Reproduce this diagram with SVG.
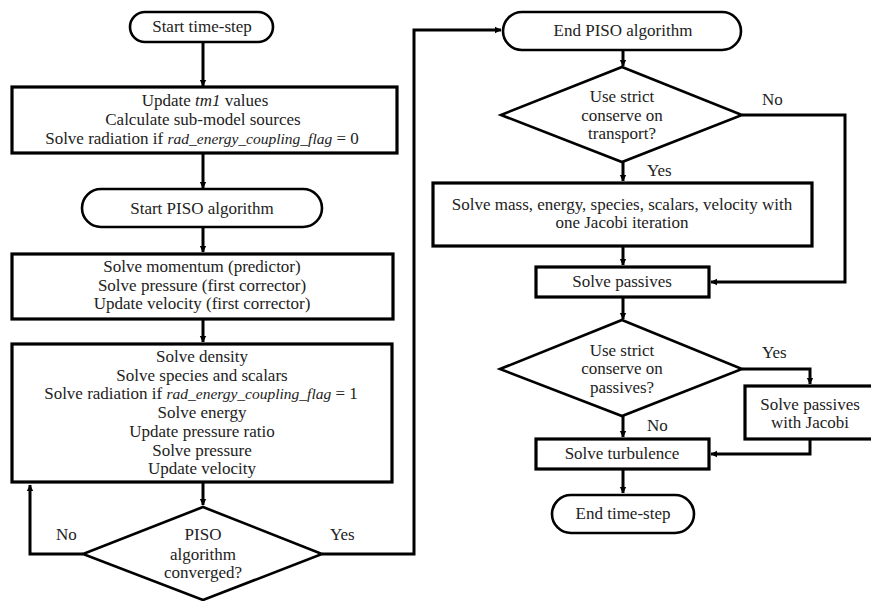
<svg xmlns="http://www.w3.org/2000/svg" width="871" height="601" viewBox="0 0 871 601">
<style>
text{font-family:'Liberation Serif','DejaVu Serif',serif;font-size:17px;fill:#222;text-anchor:middle}
.it{font-style:italic}
.itn{font-style:italic;font-size:15.5px}
.box{fill:#fff;stroke:#000;stroke-width:3.2}
.pill{fill:#fff;stroke:#000;stroke-width:2.6}
.dia{fill:#fff;stroke:#000;stroke-width:2.6}
.ln{fill:none;stroke:#000;stroke-width:3}
.lab{text-anchor:start}
</style>
<defs>
<marker id="ah" markerWidth="8" markerHeight="8" refX="6" refY="4" orient="auto" markerUnits="userSpaceOnUse" viewBox="0 0 8 8">
<path d="M0,0.8 L6.5,4 L0,7.2 Z" fill="#000"/>
</marker>
</defs>
<rect width="871" height="601" fill="#fff"/>
<g id="connectors">
<path class="ln" d="M203,42 V86" marker-end="url(#ah)"/>
<path class="ln" d="M203,153 V188" marker-end="url(#ah)"/>
<path class="ln" d="M203,227 V252" marker-end="url(#ah)"/>
<path class="ln" d="M203,319 V342" marker-end="url(#ah)"/>
<path class="ln" d="M203,482 V505" marker-end="url(#ah)"/>
<path class="ln" d="M83,554 H30 V485" marker-end="url(#ah)"/>
<path class="ln" d="M322,554 H414 V30 H501" marker-end="url(#ah)"/>
<path class="ln" d="M623,50 V66" marker-end="url(#ah)"/>
<path class="ln" d="M742,115 H845 V282 H711" marker-end="url(#ah)"/>
<path class="ln" d="M623,162 V181" marker-end="url(#ah)"/>
<path class="ln" d="M623,246 V265" marker-end="url(#ah)"/>
<path class="ln" d="M623,297 V319" marker-end="url(#ah)"/>
<path class="ln" d="M742,369 H810 V384" marker-end="url(#ah)"/>
<path class="ln" d="M810,440 V454 H711" marker-end="url(#ah)"/>
<path class="ln" d="M623,416 V437" marker-end="url(#ah)"/>
<path class="ln" d="M623,469 V493" marker-end="url(#ah)"/>
<text class="lab" x="56" y="540">No</text>
<text class="lab" x="330" y="540">Yes</text>
<text class="lab" x="762" y="105">No</text>
<text class="lab" x="647" y="176">Yes</text>
<text class="lab" x="762" y="358">Yes</text>
<text class="lab" x="647" y="431">No</text>
</g>
<g id="start-time-step">
<rect class="pill" x="130" y="12" width="143" height="30" rx="15"/>
<text x="202" y="32">Start time-step</text>
</g>
<g id="update-tm1">
<rect class="box" x="12" y="87" width="385" height="66"/>
<text x="205" y="106">Update <tspan class="it">tm1</tspan> values</text>
<text x="203" y="125">Calculate sub-model sources</text>
<text x="202" y="144">Solve radiation if <tspan class="itn">rad_energy_coupling_flag</tspan> = 0</text>
</g>
<g id="start-piso">
<rect class="pill" x="82" y="189" width="240" height="38" rx="19"/>
<text x="202" y="214">Start PISO algorithm</text>
</g>
<g id="momentum">
<rect class="box" x="12" y="254" width="381" height="65"/>
<text x="202" y="272">Solve momentum (predictor)</text>
<text x="202" y="291">Solve pressure (first corrector)</text>
<text x="202" y="309">Update velocity (first corrector)</text>
</g>
<g id="density">
<rect class="box" x="12" y="344" width="380" height="138"/>
<text x="202" y="362">Solve density</text>
<text x="202" y="381">Solve species and scalars</text>
<text x="201" y="399">Solve radiation if <tspan class="itn">rad_energy_coupling_flag</tspan> = 1</text>
<text x="202" y="418">Solve energy</text>
<text x="202" y="437">Update pressure ratio</text>
<text x="202" y="456">Solve pressure</text>
<text x="202" y="474">Update velocity</text>
</g>
<g id="piso-converged">
<polygon class="dia" points="203,507 322,554 203,600 83,554"/>
<text x="203" y="540">PISO</text>
<text x="203" y="560">algorithm</text>
<text x="203" y="578">converged?</text>
</g>
<g id="end-piso">
<rect class="pill" x="503" y="12" width="238" height="38" rx="19"/>
<text x="623" y="36">End PISO algorithm</text>
</g>
<g id="strict-transport">
<polygon class="dia" points="622,67 742,115 622,162 501,115"/>
<text x="622" y="102">Use strict</text>
<text x="622" y="121">conserve on</text>
<text x="622" y="139">transport?</text>
</g>
<g id="solve-mass">
<rect class="box" x="433" y="183" width="379" height="63"/>
<text x="622" y="210">Solve mass, energy, species, scalars, velocity with</text>
<text x="622" y="228">one Jacobi iteration</text>
</g>
<g id="solve-passives">
<rect class="box" x="536" y="267" width="173" height="30"/>
<text x="622" y="287">Solve passives</text>
</g>
<g id="strict-passives">
<polygon class="dia" points="622,320 742,369 622,416 500,369"/>
<text x="622" y="356">Use strict</text>
<text x="622" y="374">conserve on</text>
<text x="622" y="393">passives?</text>
</g>
<g id="passives-jacobi">
<rect class="box" x="745" y="386" width="140" height="53"/>
<text x="810" y="410">Solve passives</text>
<text x="810" y="428">with Jacobi</text>
</g>
<g id="turbulence">
<rect class="box" x="536" y="439" width="173" height="30"/>
<text x="622" y="459">Solve turbulence</text>
</g>
<g id="end-time-step">
<rect class="pill" x="552" y="495" width="142" height="38" rx="19"/>
<text x="623" y="519">End time-step</text>
</g>
</svg>
